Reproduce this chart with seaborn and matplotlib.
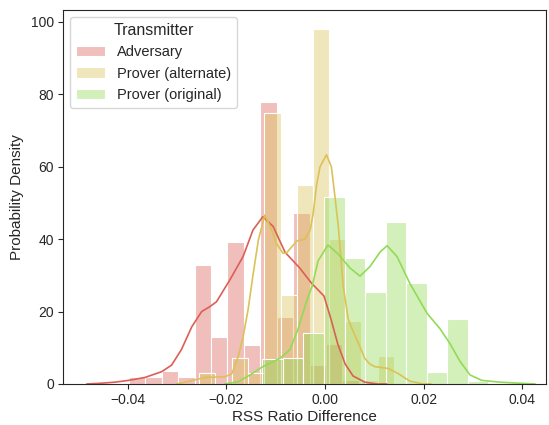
import numpy as np
import pandas as pd
import matplotlib
matplotlib.use("Agg")
import matplotlib.pyplot as plt
import seaborn as sns

# Histogram bin edges and densities for each transmitter
adv_edges = [-0.0397, -0.0364, -0.0331, -0.0297, -0.0264, -0.0231, -0.0198, -0.0164,
             -0.0131, -0.0098, -0.0065, -0.0031, 0.0002, 0.0035, 0.0068]
adv_density = [2.0, 2.0, 3.6, 2.0, 32.9, 13.1, 39.2, 10.8, 78.0, 18.6, 47.2, 5.2, 11.0, 1.2]

alt_edges = [-0.0255, -0.0222, -0.0189, -0.0156, -0.0123, -0.0090, -0.0057, -0.0025,
             0.0008, 0.0041, 0.0074, 0.0107, 0.0140]
alt_density = [3.0, 0.0, 7.2, 3.0, 74.8, 24.6, 55.0, 98.0, 40.0, 17.4, 1.0, 7.7]

orig_edges = [-0.0127, -0.0085, -0.0044, -0.0002, 0.0040, 0.0081, 0.0123, 0.0165,
              0.0206, 0.0248, 0.0289, 0.0331]
orig_density = [7.0, 7.3, 14.2, 51.7, 34.8, 25.4, 44.8, 27.9, 3.4, 18.0, 0.8]

# Kernel density estimates
adv_kde_x = [-0.0483, -0.0455, -0.0426, -0.0398, -0.0365, -0.0331, -0.0311, -0.0291, -0.0270,
             -0.0250, -0.0233, -0.0220, -0.0193, -0.0166, -0.0146, -0.0126, -0.0105, -0.0081,
             -0.0051, -0.0027, -0.0002, 0.0012, 0.0026, 0.0041, 0.0057, 0.0081, 0.0105, 0.0125]
adv_kde_y = [0.0, 0.2, 0.5, 1.0, 1.8, 3.4, 5.2, 9.5, 15.8, 20.0, 21.4, 22.7, 28.7, 35.2, 42.5,
             46.2, 43.5, 36.4, 32.0, 27.8, 24.3, 18.0, 11.0, 5.5, 2.2, 0.5, 0.0, 0.0]

alt_kde_x = [-0.0301, -0.0274, -0.0243, -0.0203, -0.0189, -0.0176, -0.0166, -0.0156, -0.0146,
             -0.0135, -0.0122, -0.0108, -0.0099, -0.0085, -0.0078, -0.0057, -0.0041, -0.0030,
             -0.0024, -0.0017, -0.0010, 0.0003, 0.0013, 0.0020, 0.0027, 0.0037, 0.0047, 0.0054,
             0.0068, 0.0081, 0.0091, 0.0101, 0.0128, 0.0148, 0.0172, 0.0199, 0.0215]
alt_kde_y = [0.0, 0.8, 1.8, 2.0, 2.8, 7.5, 13.0, 20.4, 30.0, 39.8, 46.7, 42.5, 39.0, 36.1, 36.2,
             39.5, 40.0, 42.5, 47.0, 55.0, 60.0, 63.3, 60.0, 52.0, 43.5, 27.0, 18.0, 15.5,
             11.2, 7.0, 5.5, 4.8, 4.3, 2.9, 0.8, 0.0, 0.0]

orig_kde_x = [-0.0203, -0.0176, -0.0152, -0.0126, -0.0091, -0.0071, -0.0055, -0.0037, -0.0026,
              -0.0014, 0.0006, 0.0026, 0.0051, 0.0071, 0.0091, 0.0112, 0.0126, 0.0146, 0.0172,
              0.0207, 0.0233, 0.0254, 0.0274, 0.0294, 0.0318, 0.0355, 0.0396, 0.0426]
orig_kde_y = [0.0, 0.6, 2.5, 4.8, 7.1, 9.5, 15.0, 23.0, 27.0, 34.0, 38.4, 36.0, 32.0, 29.8,
              32.4, 36.5, 38.2, 35.2, 27.8, 19.5, 15.3, 11.0, 6.2, 2.5, 1.0, 0.5, 0.2, 0.0]

groups = ["Adversary", "Prover (alternate)", "Prover (original)"]

sns.set_style("ticks")
plt.rcParams["font.family"] = ["Liberation Sans", "DejaVu Sans"]
palette = sns.color_palette("hls", 8)[:3]

fig, ax = plt.subplots(figsize=(5.49, 4.25), dpi=100)
fig.subplots_adjust(left=0.1148, right=0.9945, top=0.9765, bottom=0.0965)

hist_sets = [(adv_edges, adv_density), (alt_edges, alt_density), (orig_edges, orig_density)]
for name, (edges, dens), color in zip(groups, hist_sets, palette):
    centers = [(a + b) / 2 for a, b in zip(edges[:-1], edges[1:])]
    df = pd.DataFrame({"x": centers, "w": dens})
    sns.histplot(data=df, x="x", weights="w", bins=list(edges), stat="count",
                 color=color, alpha=0.4, edgecolor="white", linewidth=0.8,
                 label=name, ax=ax)

kde_sets = [(adv_kde_x, adv_kde_y), (alt_kde_x, alt_kde_y), (orig_kde_x, orig_kde_y)]
for (kx, ky), color in zip(kde_sets, palette):
    sns.lineplot(x=kx, y=ky, color=color, linewidth=1.2, legend=False, ax=ax)

ax.set_xlim(-0.0531, 0.0448)
ax.set_ylim(0, 103.3)
ax.set_xticks([-0.04, -0.02, 0.00, 0.02, 0.04])
ax.set_xticklabels(["\u22120.04", "\u22120.02", "0.00", "0.02", "0.04"])
ax.set_yticks([0, 20, 40, 60, 80, 100])
ax.tick_params(labelsize=10, length=3.5, pad=3)
ax.set_xlabel("RSS Ratio Difference", fontsize=11, labelpad=2)
ax.set_ylabel("Probability Density", fontsize=11, labelpad=5)

leg = ax.legend(title="Transmitter", loc="upper left", fontsize=10.5,
                title_fontsize=11.5)

fig.savefig("out.png", dpi=100)
